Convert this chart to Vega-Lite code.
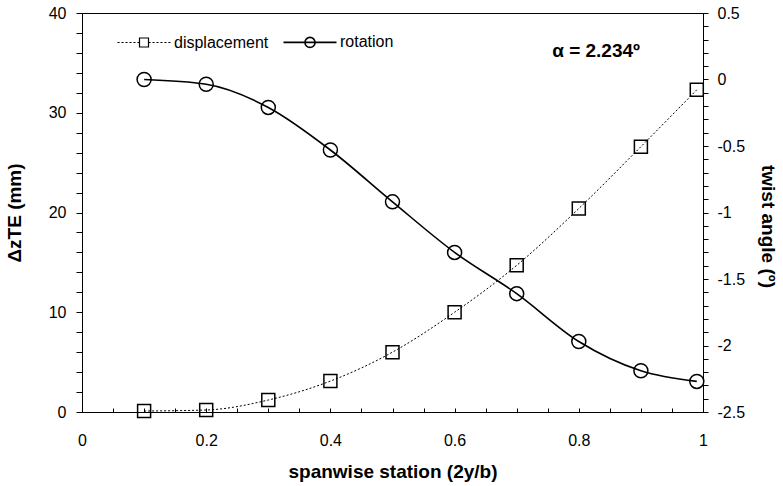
{
  "$schema": "https://vega.github.io/schema/vega-lite/v6.json",
  "width": 621,
  "height": 399,
  "autosize": {"type": "none"},
  "padding": {"left": 82, "top": 13, "right": 80, "bottom": 74},
  "background": "white",
  "config": {
    "font": "Liberation Sans",
    "view": {"stroke": "black", "strokeWidth": 1},
    "axis": {
      "grid": false,
      "domainColor": "black",
      "tickColor": "black",
      "labelColor": "black",
      "titleColor": "black",
      "labelFontSize": 16,
      "titleFontSize": 19,
      "titleFontWeight": "bold",
      "labelFont": "Liberation Sans",
      "titleFont": "Liberation Sans"
    }
  },
  "title": {
    "text": "α = 2.234º",
    "anchor": "end",
    "frame": "group",
    "orient": "top",
    "dx": -63,
    "dy": 60,
    "fontSize": 19,
    "fontWeight": "bold",
    "font": "Liberation Sans",
    "color": "black"
  },
  "data": {
    "values": [
      {"x": 0.1, "series": "displacement", "value": 0.1},
      {"x": 0.2, "series": "displacement", "value": 0.2},
      {"x": 0.3, "series": "displacement", "value": 1.2},
      {"x": 0.4, "series": "displacement", "value": 3.1},
      {"x": 0.5, "series": "displacement", "value": 6.0},
      {"x": 0.6, "series": "displacement", "value": 10.0},
      {"x": 0.7, "series": "displacement", "value": 14.7},
      {"x": 0.8, "series": "displacement", "value": 20.4},
      {"x": 0.9, "series": "displacement", "value": 26.6},
      {"x": 0.99, "series": "displacement", "value": 32.3},
      {"x": 0.1, "series": "rotation", "value": 0.0},
      {"x": 0.2, "series": "rotation", "value": -0.036},
      {"x": 0.3, "series": "rotation", "value": -0.21},
      {"x": 0.4, "series": "rotation", "value": -0.53},
      {"x": 0.5, "series": "rotation", "value": -0.92},
      {"x": 0.6, "series": "rotation", "value": -1.30},
      {"x": 0.7, "series": "rotation", "value": -1.61},
      {"x": 0.8, "series": "rotation", "value": -1.97},
      {"x": 0.9, "series": "rotation", "value": -2.19},
      {"x": 0.99, "series": "rotation", "value": -2.27}
    ]
  },
  "encoding": {
    "x": {
      "field": "x",
      "type": "quantitative",
      "scale": {"domain": [0, 1], "nice": false, "zero": false},
      "axis": {
        "title": "spanwise station (2y/b)",
        "values": [0, 0.05, 0.1, 0.15, 0.2, 0.25, 0.3, 0.35, 0.4, 0.45, 0.5, 0.55, 0.6, 0.65, 0.7, 0.75, 0.8, 0.85, 0.9, 0.95, 1],
        "labelExpr": "abs(datum.value * 5 - round(datum.value * 5)) < 0.001 ? '' + datum.value : ''",
        "tickSize": -4,
        "labelPadding": 24,
        "titlePadding": 14,
        "labelFlush": false,
        "labelOverlap": false
      }
    }
  },
  "layer": [
    {
      "transform": [{"filter": "datum.series === 'displacement'"}],
      "encoding": {
        "y": {
          "field": "value",
          "type": "quantitative",
          "scale": {"domain": [0, 40], "nice": false},
          "axis": {
            "orient": "left",
            "title": "ΔzTE (mm)",
            "values": [0, 2, 4, 6, 8, 10, 12, 14, 16, 18, 20, 22, 24, 26, 28, 30, 32, 34, 36, 38, 40],
            "labelExpr": "datum.value % 10 === 0 ? '' + datum.value : ''",
            "tickSize": 6,
            "labelPadding": 10,
            "titlePadding": 24,
            "labelFlush": false,
            "labelOverlap": false
          }
        }
      },
      "layer": [
        {
          "mark": {"type": "line", "strokeDash": [2, 2], "strokeWidth": 1, "interpolate": "monotone"},
          "encoding": {
            "color": {
              "field": "series",
              "type": "nominal",
              "scale": {"domain": ["displacement", "rotation"], "range": ["black", "black"]},
              "legend": {
                "orient": "none",
                "legendX": 54,
                "legendY": 21,
                "direction": "horizontal",
                "title": null,
                "padding": 0,
                "symbolSize": 2809,
                "labelFontSize": 16,
                "labelFont": "Liberation Sans",
                "labelColor": "black",
                "labelOffset": 22,
                "columnPadding": 11,
                "encode": {
                  "symbols": {
                    "update": {
                      "shape": {"signal": "datum.value === 'displacement' ? 'M-1,0H-0.92M-0.85,0H-0.77M-0.7,0H-0.62M-0.55,0H-0.47M-0.4,0H-0.32M-0.25,0H-0.19M-0.17,-0.17H0.17V0.17H-0.17ZM0.19,0H0.25M0.32,0H0.4M0.47,0H0.55M0.62,0H0.7M0.77,0H0.85M0.92,0H1' : 'M-1,0H1M0.19,0A0.19,0.19,0,1,1,-0.19,0A0.19,0.19,0,1,1,0.19,0'"},
                      "strokeWidth": {"signal": "datum.value === 'displacement' ? 1.2 : 1.6"},
                      "stroke": {"value": "black"},
                      "fill": {"value": "transparent"},
                      "strokeDash": {"value": []},
                      "opacity": {"value": 1}
                    }
                  }
                }
              }
            }
          }
        },
        {
          "mark": {"type": "point", "shape": "square", "filled": false, "size": 169, "stroke": "black", "strokeWidth": 1.5, "opacity": 1}
        }
      ]
    },
    {
      "transform": [{"filter": "datum.series === 'rotation'"}],
      "encoding": {
        "y": {
          "field": "value",
          "type": "quantitative",
          "scale": {"domain": [-2.5, 0.5], "nice": false, "zero": false},
          "axis": {
            "orient": "right",
            "title": "twist angle (º)",
            "values": [-2.5, -2.4, -2.3, -2.2, -2.1, -2, -1.9, -1.8, -1.7, -1.6, -1.5, -1.4, -1.3, -1.2, -1.1, -1, -0.9, -0.8, -0.7, -0.6, -0.5, -0.4, -0.3, -0.2, -0.1, 0, 0.1, 0.2, 0.3, 0.4, 0.5],
            "labelExpr": "abs(datum.value * 2 - round(datum.value * 2)) < 0.001 ? '' + datum.value : ''",
            "tickSize": 5,
            "labelPadding": 9,
            "titlePadding": 13,
            "titleFontSize": 19,
            "titleY": 213,
            "labelFlush": false,
            "labelOverlap": false
          }
        }
      },
      "layer": [
        {
          "mark": {"type": "line", "strokeWidth": 1.6, "interpolate": "monotone"},
          "encoding": {
            "color": {"field": "series", "type": "nominal", "scale": {"domain": ["displacement", "rotation"], "range": ["black", "black"]}}
          }
        },
        {
          "mark": {"type": "point", "shape": "circle", "filled": false, "size": 196, "stroke": "black", "strokeWidth": 1.5, "opacity": 1}
        }
      ]
    }
  ],
  "resolve": {"scale": {"y": "independent"}}
}
